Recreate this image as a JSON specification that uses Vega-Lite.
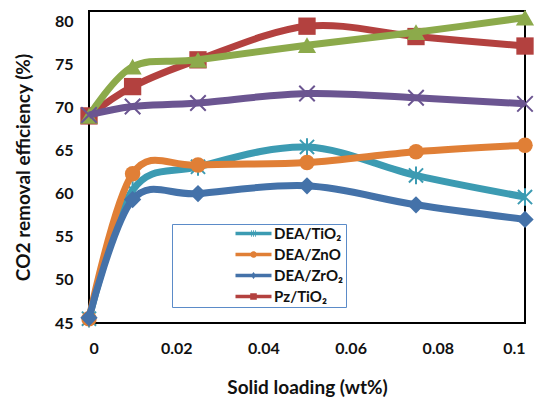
{
  "$schema": "https://vega.github.io/schema/vega-lite/v6.json",
  "width": 436,
  "height": 312,
  "autosize": {"type": "none"},
  "padding": {"left": 89, "top": 11, "right": 13, "bottom": 78},
  "background": "white",
  "config": {
    "font": "Lato",
    "view": {"stroke": "black", "strokeWidth": 2},
    "axis": {"grid": false, "domain": false, "ticks": false, "labelFontWeight": "bold", "labelColor": "#111", "titleFontWeight": "bold", "titleColor": "#111", "labelFont": "Lato", "titleFont": "Lato"}
  },
  "data": {
    "values": [
      {"series": "DEA/TiO₂", "x": 0, "y": 45.5},
      {"series": "DEA/TiO₂", "x": 0.01, "y": 60.4},
      {"series": "DEA/TiO₂", "x": 0.025, "y": 63.1},
      {"series": "DEA/TiO₂", "x": 0.05, "y": 65.4},
      {"series": "DEA/TiO₂", "x": 0.075, "y": 62.1},
      {"series": "DEA/TiO₂", "x": 0.1, "y": 59.6},
      {"series": "DEA/ZnO", "x": 0, "y": 45.5},
      {"series": "DEA/ZnO", "x": 0.01, "y": 62.3},
      {"series": "DEA/ZnO", "x": 0.025, "y": 63.3},
      {"series": "DEA/ZnO", "x": 0.05, "y": 63.6},
      {"series": "DEA/ZnO", "x": 0.075, "y": 64.85},
      {"series": "DEA/ZnO", "x": 0.1, "y": 65.6},
      {"series": "DEA/ZrO₂", "x": 0, "y": 45.6},
      {"series": "DEA/ZrO₂", "x": 0.01, "y": 59.3},
      {"series": "DEA/ZrO₂", "x": 0.025, "y": 60.0},
      {"series": "DEA/ZrO₂", "x": 0.05, "y": 60.9},
      {"series": "DEA/ZrO₂", "x": 0.075, "y": 58.7},
      {"series": "DEA/ZrO₂", "x": 0.1, "y": 57.0},
      {"series": "Pz/TiO₂", "x": 0, "y": 69.0},
      {"series": "Pz/TiO₂", "x": 0.01, "y": 72.4},
      {"series": "Pz/TiO₂", "x": 0.025, "y": 75.5},
      {"series": "Pz/TiO₂", "x": 0.05, "y": 79.4},
      {"series": "Pz/TiO₂", "x": 0.075, "y": 78.2},
      {"series": "Pz/TiO₂", "x": 0.1, "y": 77.1},
      {"series": "Series 5", "x": 0, "y": 69.0},
      {"series": "Series 5", "x": 0.01, "y": 74.7},
      {"series": "Series 5", "x": 0.025, "y": 75.5},
      {"series": "Series 5", "x": 0.05, "y": 77.2},
      {"series": "Series 5", "x": 0.075, "y": 78.7},
      {"series": "Series 5", "x": 0.1, "y": 80.4},
      {"series": "Series 6", "x": 0, "y": 69.1},
      {"series": "Series 6", "x": 0.01, "y": 70.1},
      {"series": "Series 6", "x": 0.025, "y": 70.5},
      {"series": "Series 6", "x": 0.05, "y": 71.6},
      {"series": "Series 6", "x": 0.075, "y": 71.1},
      {"series": "Series 6", "x": 0.1, "y": 70.4}
    ]
  },
  "encoding": {
    "x": {"field": "x", "type": "quantitative", "title": "Solid loading (wt%)",
      "scale": {"domain": [0, 0.1], "nice": false, "zero": false},
      "axis": {"values": [0, 0.02, 0.04, 0.06, 0.08, 0.1], "format": "~g", "labelFontSize": 16, "labelPadding": 17, "titleFontSize": 19, "titlePadding": 22}},
    "y": {"field": "y", "type": "quantitative", "title": "CO2 removal efficiency (%)",
      "scale": {"domain": [45, 81.16], "nice": false, "zero": false},
      "axis": {"values": [45, 50, 55, 60, 65, 70, 75, 80], "labelFontSize": 16, "labelPadding": 16, "titleFontSize": 19, "titlePadding": 21}}
  },
  "layer": [
    {"transform": [{"filter": "datum.series === 'DEA/TiO₂'"}], "mark": {"type": "line", "interpolate": "cardinal", "color": "#3C9BB2", "strokeWidth": 7}},
    {"transform": [{"filter": "datum.series === 'DEA/TiO₂'"}], "mark": {"type": "point", "shape": "M-1,-1L1,1M-1,1L1,-1M0,-1.25L0,1.25", "filled": false, "color": "#3C9BB2", "strokeWidth": 2, "size": 200, "opacity": 1}},
    {"transform": [{"filter": "datum.series === 'DEA/ZnO'"}], "mark": {"type": "line", "interpolate": "cardinal", "color": "#E07F36", "strokeWidth": 7}},
    {"transform": [{"filter": "datum.series === 'DEA/ZnO'"}], "mark": {"type": "point", "shape": "circle", "filled": true, "color": "#E07F36", "size": 240, "opacity": 1}},
    {"transform": [{"filter": "datum.series === 'DEA/ZrO₂'"}], "mark": {"type": "line", "interpolate": "cardinal", "color": "#4472A9", "strokeWidth": 7}},
    {"transform": [{"filter": "datum.series === 'DEA/ZrO₂'"}], "mark": {"type": "point", "shape": "diamond", "filled": true, "color": "#4472A9", "size": 300, "opacity": 1}},
    {"transform": [{"filter": "datum.series === 'Pz/TiO₂'"}], "mark": {"type": "line", "interpolate": "cardinal", "color": "#B3413F", "strokeWidth": 7}},
    {"transform": [{"filter": "datum.series === 'Pz/TiO₂'"}], "mark": {"type": "point", "shape": "square", "filled": true, "color": "#B3413F", "size": 300, "opacity": 1}},
    {"transform": [{"filter": "datum.series === 'Series 5'"}], "mark": {"type": "line", "interpolate": "cardinal", "color": "#8CAA4B", "strokeWidth": 7}},
    {"transform": [{"filter": "datum.series === 'Series 5'"}], "mark": {"type": "point", "shape": "triangle-up", "filled": true, "color": "#8CAA4B", "size": 330, "opacity": 1}},
    {"transform": [{"filter": "datum.series === 'Series 6'"}], "mark": {"type": "line", "interpolate": "cardinal", "color": "#6B5591", "strokeWidth": 7}},
    {"transform": [{"filter": "datum.series === 'Series 6'"}], "mark": {"type": "point", "shape": "M-1,-1L1,1M-1,1L1,-1", "filled": false, "color": "#6B5591", "strokeWidth": 2, "size": 240, "opacity": 1}},
    {
      "transform": [{"filter": "indexof(['DEA/TiO₂','DEA/ZnO','DEA/ZrO₂','Pz/TiO₂'], datum.series) >= 0"}],
      "mark": {"type": "point", "filled": true, "opacity": 0},
      "encoding": {
        "color": {"field": "series", "type": "nominal",
          "scale": {"domain": ["DEA/TiO₂", "DEA/ZnO", "DEA/ZrO₂", "Pz/TiO₂"], "range": ["#3C9BB2", "#E07F36", "#4472A9", "#B3413F"]},
          "legend": {"title": null, "orient": "none", "legendX": 83, "legendY": 213,
            "values": ["DEA/TiO₂", "DEA/ZnO", "DEA/ZrO₂", "Pz/TiO₂"],
            "symbolSize": 144, "symbolOffset": 72, "symbolStrokeWidth": 0, "symbolOpacity": 1,
            "labelFont": "Lato", "labelFontSize": 15, "labelFontWeight": "bold", "labelColor": "#111", "labelOffset": 13,
            "labelExpr": "datum.label + '\u2003\u2003\u2003\u2009'",
            "rowPadding": 5, "padding": 2, "strokeColor": "#5B8BC8", "fillColor": "white", "labelLimit": 300}},
        "shape": {"field": "series", "type": "nominal",
          "scale": {"domain": ["DEA/TiO₂", "DEA/ZnO", "DEA/ZrO₂", "Pz/TiO₂"],
            "range": [
              "M-3,-0.28H3V0.28H-3Z M-0.4,-0.55H-0.27V0.55H-0.4Z M-0.07,-0.55H0.07V0.55H-0.07Z M0.27,-0.55H0.4V0.55H0.27Z",
              "M-3,-0.28H3V0.28H-3Z M0.55,0A0.55,0.55 0 1,1 -0.55,0A0.55,0.55 0 1,1 0.55,0Z",
              "M-3,-0.28H3V0.28H-3Z M0,-0.6L0.45,0L0,0.6L-0.45,0Z",
              "M-3,-0.28H3V0.28H-3Z M-0.55,-0.55H0.55V0.55H-0.55Z"
            ]},
          "legend": null}
      }
    }
  ]
}
